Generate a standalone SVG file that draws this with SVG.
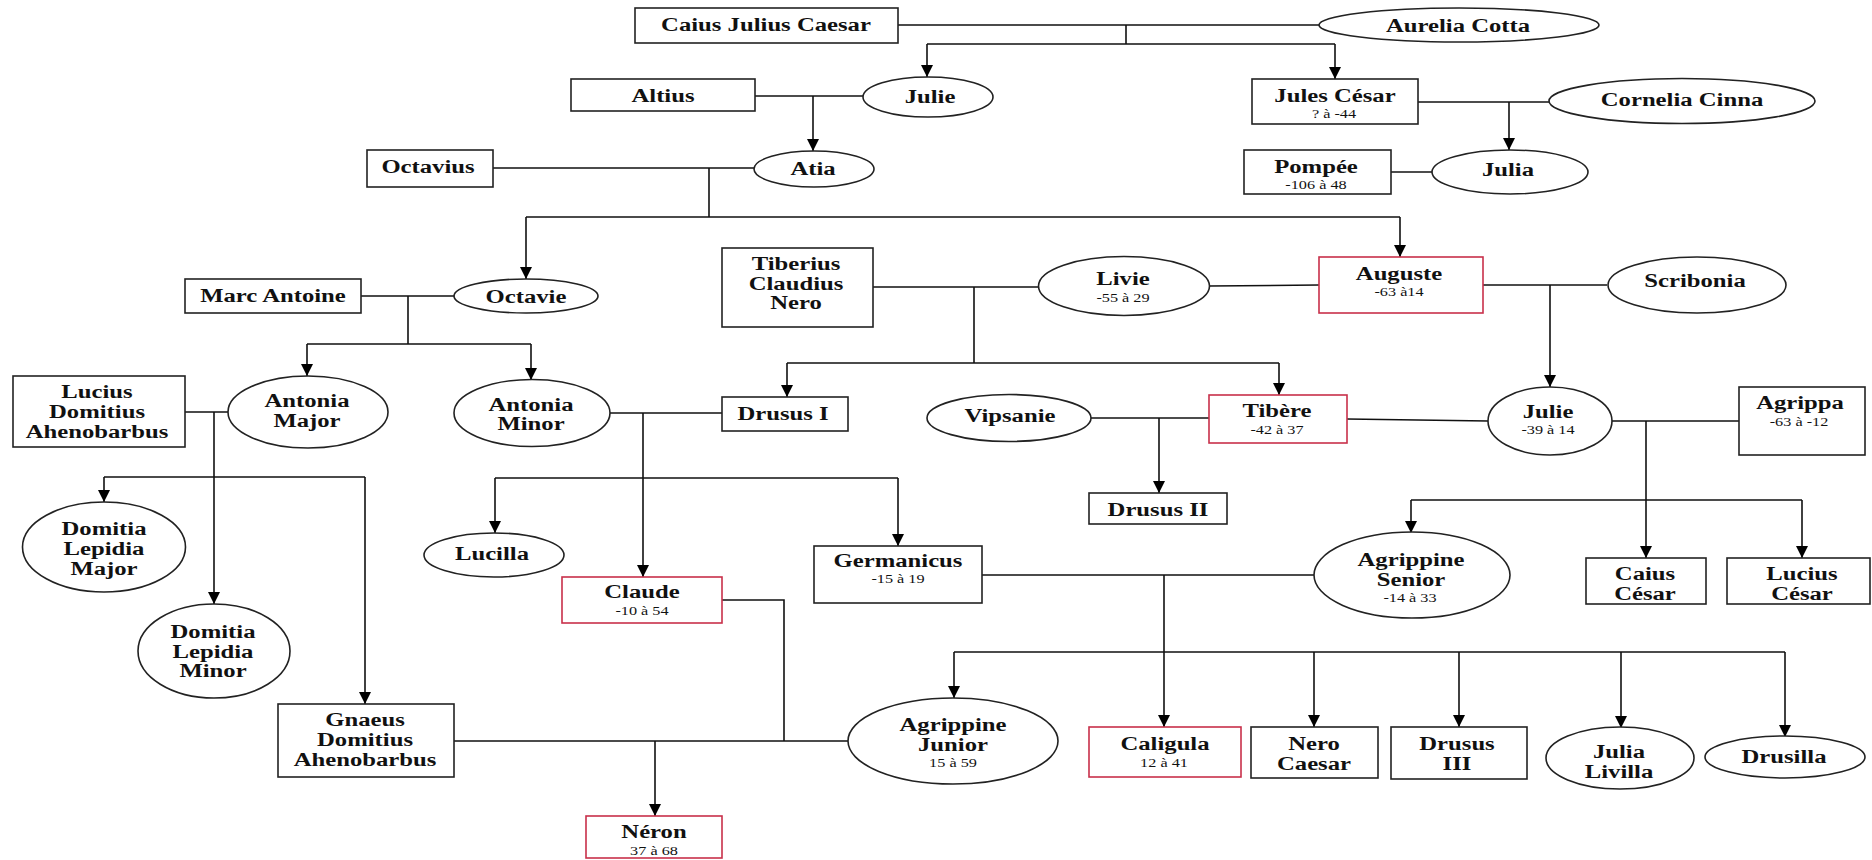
<svg xmlns="http://www.w3.org/2000/svg" width="1872" height="860" viewBox="0 0 1872 860">
<defs>
<marker id="ar" markerUnits="userSpaceOnUse" markerWidth="12" markerHeight="12" refX="12" refY="6" orient="auto">
<path d="M0,0 L12,6 L0,12 z" fill="#000"/>
</marker>
<style>
.b{fill:#fff;stroke:#222;stroke-width:1.6}
.r{fill:#fff;stroke:#c8304a;stroke-width:1.6}
.e{fill:#fff;stroke:#222;stroke-width:1.6}
.n{font-family:"Liberation Serif","Times New Roman",serif;font-weight:bold;font-size:19px;fill:#111;text-anchor:middle}
.d{font-family:"Liberation Serif","Times New Roman",serif;font-size:12.5px;fill:#111;text-anchor:middle}
.c{fill:none;stroke:#111;stroke-width:1.6}
.a{fill:none;stroke:#111;stroke-width:1.6;marker-end:url(#ar)}
</style>
</defs>
<rect width="1872" height="860" fill="#fff"/>
<g id="connectors">
<path class="c" d="M898,25 H1319 M1126,25 V44 M927,44 H1335"/>
<path class="a" d="M927,44 V77"/>
<path class="a" d="M1335,44 V79"/>
<path class="c" d="M755,96 H863"/>
<path class="a" d="M813,96 V151"/>
<path class="c" d="M493,168 H754 M709,168 V217 M526,217 H1400"/>
<path class="a" d="M526,217 V279"/>
<path class="a" d="M1400,217 V257"/>
<path class="c" d="M1418,102 H1549"/>
<path class="a" d="M1509,102 V150"/>
<path class="c" d="M1391,172 H1432"/>
<path class="c" d="M361,296 H454 M408,296 V344 M307,344 H531"/>
<path class="a" d="M307,344 V376"/>
<path class="a" d="M531,344 V380"/>
<path class="c" d="M873,287 H1038 M974,287 V363 M787,363 H1279"/>
<path class="a" d="M787,363 V397"/>
<path class="a" d="M1279,363 V395"/>
<path class="c" d="M1209,286 L1319,285"/>
<path class="c" d="M1483,285 H1607"/>
<path class="a" d="M1550,285 V387"/>
<path class="c" d="M185,412 H228 M104,477 H365"/>
<path class="a" d="M214,412 V604"/>
<path class="a" d="M104,477 V502"/>
<path class="a" d="M365,477 V704"/>
<path class="c" d="M610,413 H722 M495,478 H898"/>
<path class="a" d="M643,413 V577"/>
<path class="a" d="M495,478 V533"/>
<path class="a" d="M898,478 V546"/>
<path class="c" d="M1091,418 H1209"/>
<path class="a" d="M1159,418 V493"/>
<path class="c" d="M1347,419 L1488,421"/>
<path class="c" d="M1612,421 H1739 M1411,500 H1802"/>
<path class="a" d="M1646,421 V558"/>
<path class="a" d="M1411,500 V533"/>
<path class="a" d="M1802,500 V558"/>
<path class="c" d="M982,575 H1314 M954,652 H1785"/>
<path class="a" d="M1164,575 V727"/>
<path class="a" d="M954,652 V698"/>
<path class="a" d="M1314,652 V727"/>
<path class="a" d="M1459,652 V727"/>
<path class="a" d="M1621,652 V728"/>
<path class="a" d="M1785,652 V737"/>
<path class="c" d="M722,600 H784 V741 M454,741 H848"/>
<path class="a" d="M655,741 V816"/>
</g>
<g id="caius-julius-caesar"><rect class="b" x="635" y="8" width="263" height="35"/><text class="n" transform="matrix(1.3 0 0 1 766 0)"><tspan x="0" y="31">Caius Julius Caesar</tspan></text></g>
<g id="aurelia-cotta"><ellipse class="e" cx="1459" cy="25" rx="140" ry="17"/><text class="n" transform="matrix(1.3 0 0 1 1458 0)"><tspan x="0" y="32">Aurelia Cotta</tspan></text></g>
<g id="julie-1"><ellipse class="e" cx="928" cy="97" rx="65" ry="20"/><text class="n" transform="matrix(1.3 0 0 1 930 0)"><tspan x="0" y="103">Julie</tspan></text></g>
<g id="altius"><rect class="b" x="571" y="79" width="184" height="32"/><text class="n" transform="matrix(1.3 0 0 1 663 0)"><tspan x="0" y="102">Altius</tspan></text></g>
<g id="jules-cesar"><rect class="b" x="1252" y="79" width="166" height="45"/><text class="n" transform="matrix(1.3 0 0 1 1335 0)"><tspan x="0" y="102">Jules César</tspan></text><text class="d" transform="matrix(1.3 0 0 1 1334 0)"><tspan x="0" y="118">? à -44</tspan></text></g>
<g id="cornelia-cinna"><ellipse class="e" cx="1682" cy="101" rx="133" ry="22.5"/><text class="n" transform="matrix(1.3 0 0 1 1682 0)"><tspan x="0" y="106">Cornelia Cinna</tspan></text></g>
<g id="octavius"><rect class="b" x="367" y="150" width="126" height="37"/><text class="n" transform="matrix(1.3 0 0 1 428 0)"><tspan x="0" y="173">Octavius</tspan></text></g>
<g id="atia"><ellipse class="e" cx="814" cy="169" rx="60" ry="18"/><text class="n" transform="matrix(1.3 0 0 1 813 0)"><tspan x="0" y="175">Atia</tspan></text></g>
<g id="pompee"><rect class="b" x="1244" y="150" width="147" height="44"/><text class="n" transform="matrix(1.3 0 0 1 1316 0)"><tspan x="0" y="173">Pompée</tspan></text><text class="d" transform="matrix(1.3 0 0 1 1316 0)"><tspan x="0" y="189">-106 à 48</tspan></text></g>
<g id="julia"><ellipse class="e" cx="1510" cy="172" rx="78" ry="22"/><text class="n" transform="matrix(1.3 0 0 1 1508 0)"><tspan x="0" y="176">Julia</tspan></text></g>
<g id="marc-antoine"><rect class="b" x="185" y="279" width="176" height="34"/><text class="n" transform="matrix(1.3 0 0 1 273 0)"><tspan x="0" y="302">Marc Antoine</tspan></text></g>
<g id="octavie"><ellipse class="e" cx="526" cy="296" rx="72" ry="17"/><text class="n" transform="matrix(1.3 0 0 1 526 0)"><tspan x="0" y="303">Octavie</tspan></text></g>
<g id="tiberius-claudius-nero"><rect class="b" x="722" y="248" width="151" height="79"/><text class="n" transform="matrix(1.3 0 0 1 796 0)"><tspan x="0" y="270">Tiberius</tspan><tspan x="0" y="290">Claudius</tspan><tspan x="0" y="309">Nero</tspan></text></g>
<g id="livie"><ellipse class="e" cx="1124" cy="286" rx="85.5" ry="29.5"/><text class="n" transform="matrix(1.3 0 0 1 1123 0)"><tspan x="0" y="285">Livie</tspan></text><text class="d" transform="matrix(1.3 0 0 1 1123 0)"><tspan x="0" y="302">-55 à 29</tspan></text></g>
<g id="auguste"><rect class="r" x="1319" y="257" width="164" height="56"/><text class="n" transform="matrix(1.3 0 0 1 1399 0)"><tspan x="0" y="280">Auguste</tspan></text><text class="d" transform="matrix(1.3 0 0 1 1399 0)"><tspan x="0" y="296">-63 à14</tspan></text></g>
<g id="scribonia"><ellipse class="e" cx="1697" cy="285" rx="89" ry="28"/><text class="n" transform="matrix(1.3 0 0 1 1695 0)"><tspan x="0" y="287">Scribonia</tspan></text></g>
<g id="antonia-major"><ellipse class="e" cx="308" cy="412" rx="80" ry="36"/><text class="n" transform="matrix(1.3 0 0 1 307 0)"><tspan x="0" y="407">Antonia</tspan><tspan x="0" y="427">Major</tspan></text></g>
<g id="antonia-minor"><ellipse class="e" cx="532" cy="413" rx="78" ry="33.5"/><text class="n" transform="matrix(1.3 0 0 1 531 0)"><tspan x="0" y="411">Antonia</tspan><tspan x="0" y="430">Minor</tspan></text></g>
<g id="lucius-domitius-ahenobarbus"><rect class="b" x="13" y="376" width="172" height="71"/><text class="n" transform="matrix(1.3 0 0 1 97 0)"><tspan x="0" y="398">Lucius</tspan><tspan x="0" y="418">Domitius</tspan><tspan x="0" y="438">Ahenobarbus</tspan></text></g>
<g id="drusus-i"><rect class="b" x="722" y="397" width="126" height="34"/><text class="n" transform="matrix(1.3 0 0 1 783 0)"><tspan x="0" y="420">Drusus I</tspan></text></g>
<g id="vipsanie"><ellipse class="e" cx="1009" cy="418" rx="82" ry="23.5"/><text class="n" transform="matrix(1.3 0 0 1 1010 0)"><tspan x="0" y="422">Vipsanie</tspan></text></g>
<g id="tibere"><rect class="r" x="1209" y="395" width="138" height="48"/><text class="n" transform="matrix(1.3 0 0 1 1277 0)"><tspan x="0" y="417">Tibère</tspan></text><text class="d" transform="matrix(1.3 0 0 1 1277 0)"><tspan x="0" y="434">-42 à 37</tspan></text></g>
<g id="julie-2"><ellipse class="e" cx="1550" cy="421" rx="62" ry="34"/><text class="n" transform="matrix(1.3 0 0 1 1548 0)"><tspan x="0" y="418">Julie</tspan></text><text class="d" transform="matrix(1.3 0 0 1 1548 0)"><tspan x="0" y="434">-39 à 14</tspan></text></g>
<g id="agrippa"><rect class="b" x="1739" y="387" width="126" height="68"/><text class="n" transform="matrix(1.3 0 0 1 1800 0)"><tspan x="0" y="409">Agrippa</tspan></text><text class="d" transform="matrix(1.3 0 0 1 1799 0)"><tspan x="0" y="426">-63 à -12</tspan></text></g>
<g id="drusus-ii"><rect class="b" x="1089" y="493" width="138" height="31"/><text class="n" transform="matrix(1.3 0 0 1 1158 0)"><tspan x="0" y="516">Drusus II</tspan></text></g>
<g id="lucilla"><ellipse class="e" cx="494" cy="555" rx="70" ry="22"/><text class="n" transform="matrix(1.3 0 0 1 492 0)"><tspan x="0" y="560">Lucilla</tspan></text></g>
<g id="germanicus"><rect class="b" x="814" y="546" width="168" height="57"/><text class="n" transform="matrix(1.3 0 0 1 898 0)"><tspan x="0" y="567">Germanicus</tspan></text><text class="d" transform="matrix(1.3 0 0 1 898 0)"><tspan x="0" y="583">-15 à 19</tspan></text></g>
<g id="agrippine-senior"><ellipse class="e" cx="1412" cy="575" rx="98" ry="43"/><text class="n" transform="matrix(1.3 0 0 1 1411 0)"><tspan x="0" y="566">Agrippine</tspan><tspan x="0" y="586">Senior</tspan></text><text class="d" transform="matrix(1.3 0 0 1 1410 0)"><tspan x="0" y="602">-14 à 33</tspan></text></g>
<g id="caius-cesar"><rect class="b" x="1586" y="558" width="120" height="46"/><text class="n" transform="matrix(1.3 0 0 1 1645 0)"><tspan x="0" y="580">Caius</tspan><tspan x="0" y="600">César</tspan></text></g>
<g id="lucius-cesar"><rect class="b" x="1727" y="558" width="143" height="46"/><text class="n" transform="matrix(1.3 0 0 1 1802 0)"><tspan x="0" y="580">Lucius</tspan><tspan x="0" y="600">César</tspan></text></g>
<g id="domitia-lepidia-major"><ellipse class="e" cx="104" cy="547" rx="81.5" ry="45"/><text class="n" transform="matrix(1.3 0 0 1 104 0)"><tspan x="0" y="535">Domitia</tspan><tspan x="0" y="555">Lepidia</tspan><tspan x="0" y="575">Major</tspan></text></g>
<g id="claude"><rect class="r" x="562" y="577" width="160" height="46"/><text class="n" transform="matrix(1.3 0 0 1 642 0)"><tspan x="0" y="598">Claude</tspan></text><text class="d" transform="matrix(1.3 0 0 1 642 0)"><tspan x="0" y="615">-10 à 54</tspan></text></g>
<g id="domitia-lepidia-minor"><ellipse class="e" cx="214" cy="651" rx="76" ry="47"/><text class="n" transform="matrix(1.3 0 0 1 213 0)"><tspan x="0" y="638">Domitia</tspan><tspan x="0" y="658">Lepidia</tspan><tspan x="0" y="677">Minor</tspan></text></g>
<g id="gnaeus-domitius-ahenobarbus"><rect class="b" x="278" y="704" width="176" height="73"/><text class="n" transform="matrix(1.3 0 0 1 365 0)"><tspan x="0" y="726">Gnaeus</tspan><tspan x="0" y="746">Domitius</tspan><tspan x="0" y="766">Ahenobarbus</tspan></text></g>
<g id="agrippine-junior"><ellipse class="e" cx="953" cy="741" rx="105" ry="43"/><text class="n" transform="matrix(1.3 0 0 1 953 0)"><tspan x="0" y="731">Agrippine</tspan><tspan x="0" y="751">Junior</tspan></text><text class="d" transform="matrix(1.3 0 0 1 953 0)"><tspan x="0" y="767">15 à 59</tspan></text></g>
<g id="caligula"><rect class="r" x="1089" y="727" width="152" height="50"/><text class="n" transform="matrix(1.3 0 0 1 1165 0)"><tspan x="0" y="750">Caligula</tspan></text><text class="d" transform="matrix(1.3 0 0 1 1164 0)"><tspan x="0" y="767">12 à 41</tspan></text></g>
<g id="nero-caesar"><rect class="b" x="1251" y="727" width="127" height="51"/><text class="n" transform="matrix(1.3 0 0 1 1314 0)"><tspan x="0" y="750">Nero</tspan><tspan x="0" y="770">Caesar</tspan></text></g>
<g id="drusus-iii"><rect class="b" x="1391" y="727" width="136" height="52"/><text class="n" transform="matrix(1.3 0 0 1 1457 0)"><tspan x="0" y="750">Drusus</tspan><tspan x="0" y="770">III</tspan></text></g>
<g id="julia-livilla"><ellipse class="e" cx="1620" cy="758" rx="74" ry="31"/><text class="n" transform="matrix(1.3 0 0 1 1619 0)"><tspan x="0" y="758">Julia</tspan><tspan x="0" y="778">Livilla</tspan></text></g>
<g id="drusilla"><ellipse class="e" cx="1785" cy="757" rx="80" ry="21"/><text class="n" transform="matrix(1.3 0 0 1 1784 0)"><tspan x="0" y="763">Drusilla</tspan></text></g>
<g id="neron"><rect class="r" x="586" y="816" width="136" height="42"/><text class="n" transform="matrix(1.3 0 0 1 654 0)"><tspan x="0" y="838">Néron</tspan></text><text class="d" transform="matrix(1.3 0 0 1 654 0)"><tspan x="0" y="855">37 à 68</tspan></text></g>
</svg>
